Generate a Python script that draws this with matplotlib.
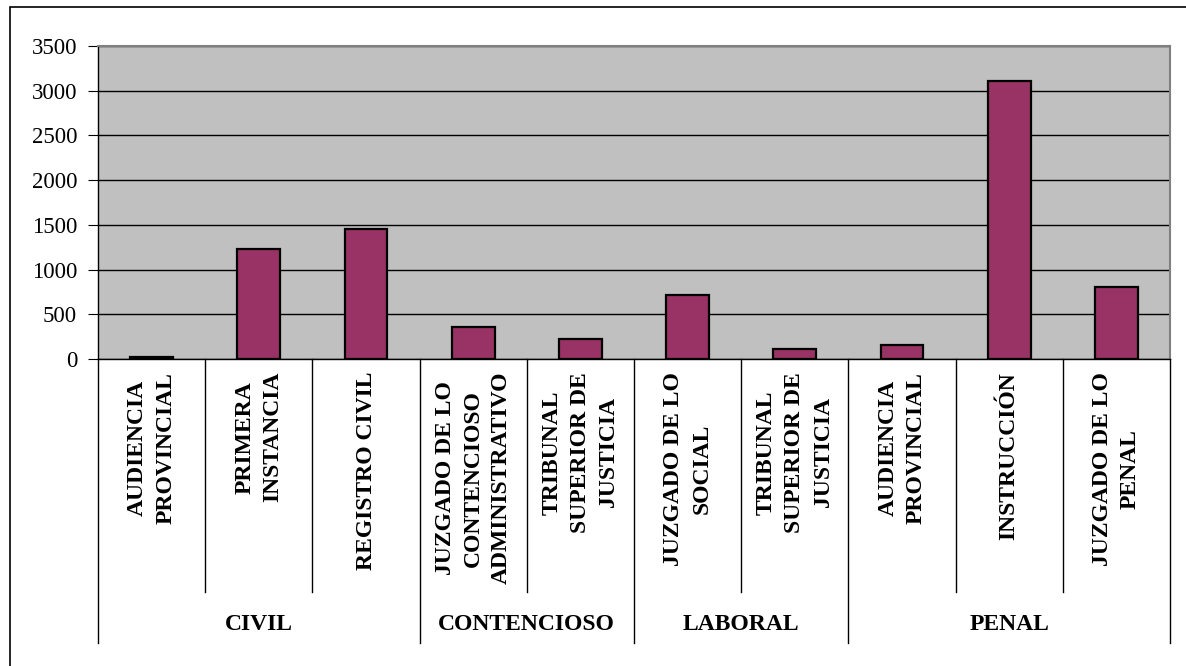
#! /usr/bin/env python3

import numpy as np
import matplotlib.pyplot as plt
from matplotlib.patches import Rectangle
from matplotlib.transforms import blended_transform_factory

# data
categories = ['AUDIENCIA\nPROVINCIAL', 'PRIMERA\nINSTANCIA', 'REGISTRO CIVIL',
              'JUZGADO DE LO\nCONTENCIOSO\nADMINISTRATIVO',
              'TRIBUNAL\nSUPERIOR DE\nJUSTICIA',
              'JUZGADO DE LO\nSOCIAL',
              'TRIBUNAL\nSUPERIOR DE\nJUSTICIA',
              'AUDIENCIA\nPROVINCIAL', 'INSTRUCCIÓN', 'JUZGADO DE LO\nPENAL']
values = [25, 1230, 1455, 355, 225, 715, 115, 160, 3110, 805]
groups = ['CIVIL', 'CONTENCIOSO', 'LABORAL', 'PENAL']
group_sizes = [3, 2, 2, 3]
y_ticks = [0, 500, 1000, 1500, 2000, 2500, 3000, 3500]

W, H = 1186, 666
plt.rcParams['font.family'] = ['Liberation Serif', 'DejaVu Serif']

fig = plt.figure(figsize=(W / 100, H / 100), dpi=100)
ax = fig.add_axes([98 / W, (H - 359) / H, 1072 / W, 313 / H])

x = np.arange(len(values))
ax.bar(x, values, width=0.4, color='#993366', edgecolor='black',
       linewidth=1.6, zorder=3)

ax.set_facecolor('#C0C0C0')
ax.set_xlim(-0.5, len(values) - 0.5)
ax.set_ylim(0, 3500)
ax.set_yticks(y_ticks)
ax.set_yticklabels([str(t) for t in y_ticks], fontsize=16.5)
ax.yaxis.grid(True, color='black', linewidth=1)
ax.set_axisbelow(True)
ax.tick_params(axis='y', direction='out', length=7, pad=8, color='black')
ax.tick_params(axis='x', length=0, labelbottom=False)

for side in ['top', 'right']:
    ax.spines[side].set_color('#808080')
    ax.spines[side].set_linewidth(1.5)
for side in ['left', 'bottom']:
    ax.spines[side].set_color('black')
    ax.spines[side].set_linewidth(1)

trans = blended_transform_factory(ax.transData, ax.transAxes)
inner_end = (359 - 592) / 313
group_end = (359 - 643) / 313
label_top = (359 - 372) / 313
group_y = (359 - 625) / 313

# category separators, longer at group boundaries
bounds = np.cumsum([0] + group_sizes)
for i in range(len(values) + 1):
    y_end = group_end if i in bounds else inner_end
    ax.plot([i - 0.5, i - 0.5], [0, y_end], color='black', linewidth=1,
            transform=trans, clip_on=False)

for xi, label in zip(x, categories):
    ax.text(xi, label_top, label, transform=trans, rotation=90,
            ha='center', va='top', multialignment='center',
            fontsize=17, fontweight='bold', linespacing=1.45)

for g, start, size in zip(groups, bounds[:-1], group_sizes):
    ax.text(start + (size - 1) / 2, group_y, g, transform=trans,
            ha='center', va='center', fontsize=17, fontweight='bold')

# outer chart border (only top and left are visible in the picture)
fig.patches.append(Rectangle((9.5 / W, -0.1), 1.5, 1 - 7 / H + 0.1,
                             transform=fig.transFigure, fill=False,
                             edgecolor='black', linewidth=1.2))

fig.savefig('out.png', dpi=100)
